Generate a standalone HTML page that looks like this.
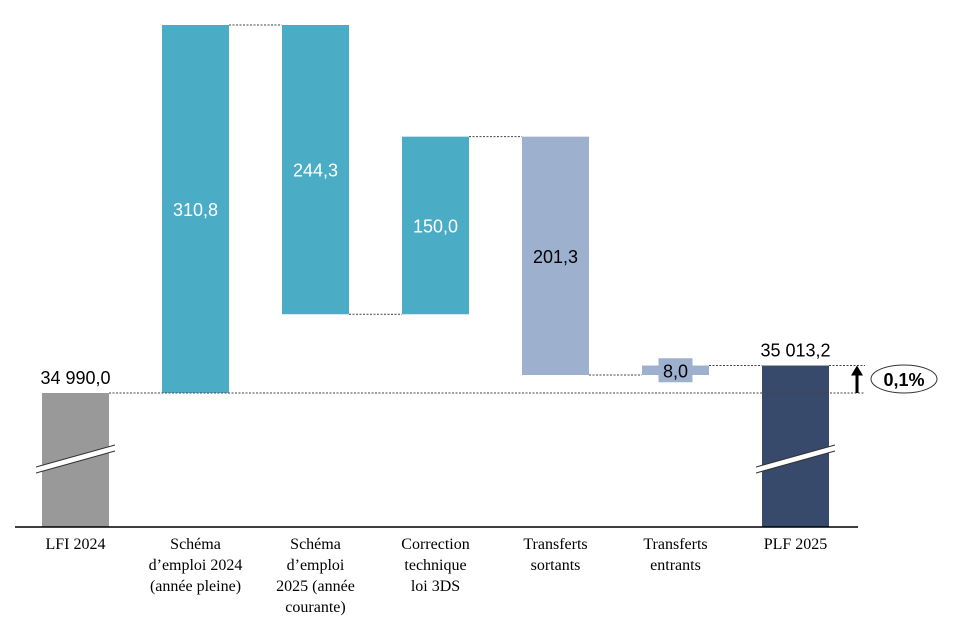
<!DOCTYPE html>
<html><head><meta charset="utf-8"><style>
body{margin:0;background:#fff;}
svg{display:block;font-family:"Liberation Sans",sans-serif;}
.cat{font-family:"Liberation Serif",serif;font-size:16px;fill:#000;}
</style></head><body>
<svg id="chart" width="960" height="629" viewBox="0 0 960 629" xmlns="http://www.w3.org/2000/svg"></svg>
<script>
const categories=[["LFI 2024"],["Schéma","d’emploi 2024","(année pleine)"],["Schéma","d’emploi","2025 (année","courante)"],["Correction","technique","loi 3DS"],["Transferts","sortants"],["Transferts","entrants"],["PLF 2025"]];
const values=[34990.0,310.8,-244.3,150.0,-201.3,8.0,35013.2];
const kinds=["total","delta","delta","delta","delta","delta","total"];
const labels=["34 990,0","310,8","244,3","150,0","201,3","8,0","35 013,2"];
const pctLabel="0,1%";
const colors={total0:"#999999",up:"#4BACC6",down1:"#4BACC6",down:"#9DB0CE",total1:"#374A6B"};
const NS="http://www.w3.org/2000/svg";
const svg=document.getElementById('chart');
const base=34990, yBase=393, pxPer=368/310.8, yAxis=527;
function y(v){return yBase-(v-base)*pxPer;}
function xc(i){return 75.5+i*120;}
const bw=67;
function mk(tag,attrs,parent){const e=document.createElementNS(NS,tag);for(const k in attrs)e.setAttribute(k,attrs[k]);(parent||svg).appendChild(e);return e;}
let run=0, prevTop=null;
const tops=[];
for(let i=0;i<values.length;i++){
  let y0,y1,fill;
  if(kinds[i]==="total"){run=values[i];y0=y(run);y1=yAxis;fill=i===0?colors.total0:colors.total1;}
  else{const a=run,b=run+values[i];run=b;y0=Math.min(y(a),y(b));y1=Math.max(y(a),y(b));
    fill=(i===4||i===5)?colors.down:colors.up;}
  tops.push([y0,y1,run]);
  const r=mk('rect',{x:xc(i)-bw/2,y:y0,width:bw,height:y1-y0,fill:fill});
  
  
  const lines=categories[i];
  const t=mk('text',{class:'cat','text-anchor':'middle'});
  
  
  lines.forEach((s,j)=>{const ts=mk('tspan',{x:xc(i),y:549+j*21},t);ts.textContent=s;});
}
// connectors
let r2=0;
for(let i=0;i<values.length-1;i++){
  r2=kinds[i]==="total"?values[i]:r2+values[i];
  const l=mk('line',{x1:xc(i)+bw/2,x2:xc(i+1)-bw/2,y1:y(r2),y2:y(r2),stroke:'#444','stroke-width':1,'stroke-dasharray':'2,1.5'});
  
  
}
// reference lines for growth
const gl1=mk('line',{x1:xc(0)+bw/2,x2:865,y1:y(values[0]),y2:y(values[0]),stroke:'#444','stroke-dasharray':'2,1.5'});


const gl2=mk('line',{x1:xc(6)+bw/2,x2:865,y1:y(values[6]),y2:y(values[6]),stroke:'#444','stroke-dasharray':'2,1.5'});


// value labels
for(let i=0;i<values.length;i++){
  const [y0,y1]=tops[i];let tx=xc(i),ty,fill='#000';
  if(kinds[i]==="total"){ty=y0-9;}
  else if(i===5){const bg=mk('rect',{x:tx-17,y:(y0+y1)/2-12,width:34,height:24,fill:'#9DB0CE'});
    ty=(y0+y1)/2+7;}
  else{ty=(y0+y1)/2+7;fill=(i===4)?'#000':'#fff';}
  const t=mk('text',{x:tx,y:ty,'text-anchor':'middle','font-size':18,fill:fill});
  t.textContent=labels[i];
  
  
}
// break marks
[0,6].forEach(i=>{
  const x1=xc(i)-bw/2-6,x2=xc(i)+bw/2+6;
  const g=mk('g',{});
  
  
  mk('polygon',{points:`${x1},${467} ${x2},${445} ${x2},${451} ${x1},${473}`,fill:'#fff'},g);
  mk('line',{x1:x1,y1:467,x2:x2,y2:445,stroke:'#333','stroke-width':1},g);
  mk('line',{x1:x1,y1:473,x2:x2,y2:451,stroke:'#333','stroke-width':1},g);
});
// axis
const ax=mk('line',{x1:15,x2:858,y1:yAxis,y2:yAxis,stroke:'#000','stroke-width':1.5});


// arrow
const ar=mk('g',{});


mk('line',{x1:857,x2:857,y1:y(values[0]),y2:y(values[6])+8,stroke:'#000','stroke-width':3},ar);
mk('polygon',{points:`851,${y(values[6])+10} 863,${y(values[6])+10} 857,${y(values[6])}`,fill:'#000'},ar);
const el=mk('ellipse',{cx:904,cy:379,rx:33,ry:14,fill:'#fff',stroke:'#333','stroke-width':1});


const pt=mk('text',{x:904,y:386,'text-anchor':'middle','font-size':18,'font-weight':'bold'});
pt.textContent=pctLabel;


</script>
</body></html>
